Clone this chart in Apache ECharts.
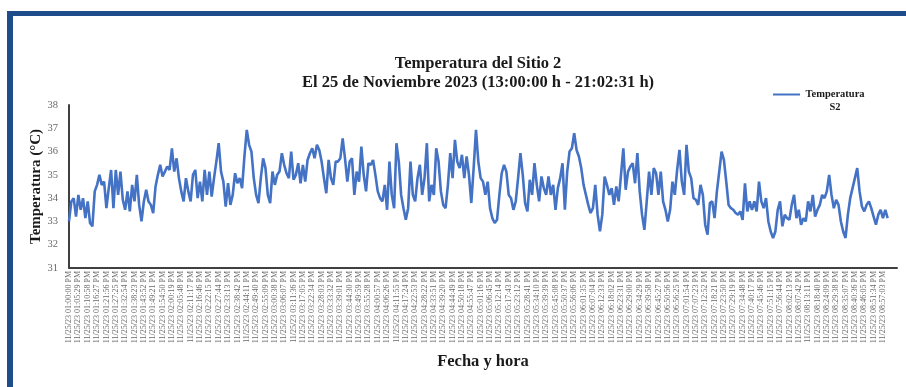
<!DOCTYPE html>
<html>
<head>
<meta charset="utf-8">
<script src="https://cdn.jsdelivr.net/npm/echarts@6/dist/echarts.min.js"></script>
<style>
html,body{margin:0;padding:0;background:#fff;}
#chart{width:906px;height:387px;}
</style>
</head>
<body>
<div id="chart"></div>
<script>
// Tick labels (every 5 min 29 s from 13:00:00)
const tickLabels = [
"11/25/23 01:00:00 PM","11/25/23 01:05:29 PM","11/25/23 01:10:58 PM","11/25/23 01:16:27 PM","11/25/23 01:21:56 PM",
"11/25/23 01:27:25 PM","11/25/23 01:32:54 PM","11/25/23 01:38:23 PM","11/25/23 01:43:52 PM","11/25/23 01:49:21 PM",
"11/25/23 01:54:50 PM","11/25/23 02:00:19 PM","11/25/23 02:05:48 PM","11/25/23 02:11:17 PM","11/25/23 02:16:46 PM",
"11/25/23 02:22:15 PM","11/25/23 02:27:44 PM","11/25/23 02:33:13 PM","11/25/23 02:38:42 PM","11/25/23 02:44:11 PM",
"11/25/23 02:49:40 PM","11/25/23 02:55:09 PM","11/25/23 03:00:38 PM","11/25/23 03:06:07 PM","11/25/23 03:11:36 PM",
"11/25/23 03:17:05 PM","11/25/23 03:22:34 PM","11/25/23 03:28:03 PM","11/25/23 03:33:32 PM","11/25/23 03:39:01 PM",
"11/25/23 03:44:30 PM","11/25/23 03:49:59 PM","11/25/23 03:55:28 PM","11/25/23 04:00:57 PM","11/25/23 04:06:26 PM",
"11/25/23 04:11:55 PM","11/25/23 04:17:24 PM","11/25/23 04:22:53 PM","11/25/23 04:28:22 PM","11/25/23 04:33:51 PM",
"11/25/23 04:39:20 PM","11/25/23 04:44:49 PM","11/25/23 04:50:18 PM","11/25/23 04:55:47 PM","11/25/23 05:01:16 PM",
"11/25/23 05:06:45 PM","11/25/23 05:12:14 PM","11/25/23 05:17:43 PM","11/25/23 05:23:12 PM","11/25/23 05:28:41 PM",
"11/25/23 05:34:10 PM","11/25/23 05:39:39 PM","11/25/23 05:45:08 PM","11/25/23 05:50:37 PM","11/25/23 05:56:06 PM",
"11/25/23 06:01:35 PM","11/25/23 06:07:04 PM","11/25/23 06:12:33 PM","11/25/23 06:18:02 PM","11/25/23 06:23:31 PM",
"11/25/23 06:29:00 PM","11/25/23 06:34:29 PM","11/25/23 06:39:58 PM","11/25/23 06:45:27 PM","11/25/23 06:50:56 PM",
"11/25/23 06:56:25 PM","11/25/23 07:01:54 PM","11/25/23 07:07:23 PM","11/25/23 07:12:52 PM","11/25/23 07:18:21 PM",
"11/25/23 07:23:50 PM","11/25/23 07:29:19 PM","11/25/23 07:34:48 PM","11/25/23 07:40:17 PM","11/25/23 07:45:46 PM",
"11/25/23 07:51:15 PM","11/25/23 07:56:44 PM","11/25/23 08:02:13 PM","11/25/23 08:07:42 PM","11/25/23 08:13:11 PM",
"11/25/23 08:18:40 PM","11/25/23 08:24:09 PM","11/25/23 08:29:38 PM","11/25/23 08:35:07 PM","11/25/23 08:40:36 PM",
"11/25/23 08:46:05 PM","11/25/23 08:51:34 PM","11/25/23 08:57:03 PM"
];
const samplesPerTick = 4; // 4 readings per label interval

// Temperature readings (°C), in order
const temps1 = [
33.00,33.86,34.00,33.21,34.14,33.50,34.00,33.14,33.86,32.93,
32.79,34.29,34.57,35.00,34.57,34.71,33.57,34.43,35.21,33.57,
35.21,34.14,35.14,33.93,33.50,34.29,33.43,34.57,33.86,35.00,
33.71,33.00,33.86,34.36,33.86,33.71,33.36,34.50,35.00,35.43,
34.93,35.14,35.36,35.21,36.14,35.14,35.71,34.86,34.29,33.86,
34.86,34.29,33.86,35.00,35.21,34.00,34.71,33.86,35.21,34.14,
35.14,34.07,34.86,35.57,36.36,35.14,34.71,33.64,34.64,33.71,
34.14,35.07,34.64,34.86,34.43,35.79,36.93,36.29,36.00,34.86,
34.14,33.79,34.86,35.71,35.29,34.14,33.79,35.14,34.57,35.00,
35.14,35.93,35.43,35.07,34.86,36.00,34.79,35.00,35.50,34.64,
35.43,34.71,35.64,35.93,36.14,35.71,36.29,36.07,35.57,34.86,
34.21,35.64,34.86,34.57,35.57
];
const temps2 = [
35.57,35.71,36.57,35.71,34.71,35.57,35.71,34.14,35.14,34.71,
36.21,35.00,34.29,35.50,35.43,35.64,35.00,34.29,34.00,33.86,
34.57,33.50,35.57,34.14,33.57,36.36,35.57,34.14,33.57,33.07,
33.57,35.57,34.14,33.86,34.86,35.43,34.14,34.86,36.36,33.86,
34.57,34.14,36.14,35.57,34.29,33.71,33.57,34.57,35.93,34.86,
36.50,35.57,35.29,35.86,34.86,35.79,35.00,33.79,35.29,36.93,
35.57,34.86,34.71,34.14,34.71,33.57,33.14,32.93,33.07,34.14,
35.07,35.43,35.14,34.14,34.00,33.50,33.86,34.86,35.93,35.00,
33.79,33.43,34.79,34.14,35.50,34.57,33.86,34.93,34.43,34.14,
34.93,34.14,34.57,33.50,34.43,34.86,35.50,33.50,35.14,36.00,
36.14,36.79,36.07,35.79,35.29,34.57,34.14,33.71,33.36,33.57,
34.57,33.29,32.57,33.29,34.93,34.57,34.14
];
const temps3 = [
34.43,33.71,34.50,33.86,35.00,36.14,34.36,35.14,35.36,35.50,
34.64,35.93,34.29,33.29,32.64,33.86,35.14,34.14,35.29,35.07,
34.14,35.14,33.86,33.50,33.00,33.50,34.71,34.14,35.21,36.07,
34.71,34.14,36.29,35.14,34.86,34.00,33.93,33.71,34.57,34.14,
32.86,32.43,33.79,33.86,33.14,34.29,35.14,36.00,35.64,34.71,
33.71,33.57,33.50,33.36,33.29,33.43,33.07,34.64,33.43,33.86,
33.50,33.86,33.43,34.71,33.86,33.57,34.00,33.00,32.57,32.29,
32.57,33.50,33.86,32.79,33.29,33.14,33.07,33.71,34.14,33.14,
33.50,32.86,33.14,33.00,33.86,33.43,34.14,33.21,33.50,33.71,
34.14,34.00,34.29,35.00,34.14,33.57,33.93,33.71,33.00,32.57,
32.29,33.29,34.00,34.43,34.86,35.29,34.29,33.64,33.43,33.71,
33.86,33.57,33.21,32.86,33.29,33.50,33.14,33.50,33.14
];
const temps = temps1.concat(temps2, temps3);

const serif = "Liberation Serif";
const chart = echarts.init(document.getElementById('chart'), null, {renderer: 'canvas'});
chart.setOption({
  backgroundColor: '#ffffff',
  animation: false,
  graphic: [
    {type: 'rect', shape: {x: 7, y: 11, width: 899, height: 5}, style: {fill: '#1f4c8a'}},
    {type: 'rect', shape: {x: 7, y: 11, width: 6, height: 376}, style: {fill: '#1f4c8a'}}
  ],
  title: {
    text: 'Temperatura del Sitio 2\nEl 25 de Noviembre 2023 (13:00:00 h - 21:02:31 h)',
    left: 473, top: 49, textAlign: 'center',
    textStyle: {fontFamily: serif, fontSize: 16.5, fontWeight: 'bold', color: '#1a1a1a', lineHeight: 19}
  },
  legend: {
    left: 773, top: 89, padding: 0,
    icon: 'rect', itemWidth: 27, itemHeight: 2,
    formatter: function () { return '{a|Temperatura}\n{a|S2}'; },
    textStyle: {
      fontFamily: serif, fontSize: 10.5, fontWeight: 'bold', color: '#1a1a1a',
      padding: [13, 0, 0, 0],
      rich: {a: {fontFamily: serif, fontSize: 10.5, fontWeight: 'bold', color: '#1a1a1a', width: 60, align: 'center', lineHeight: 13}}
    }
  },
  grid: {left: 69, right: 9, top: 105, bottom: 119, containLabel: false},
  xAxis: {
    type: 'value', min: 0, max: 354, interval: samplesPerTick,
    name: 'Fecha y hora', nameLocation: 'middle', nameGap: 85,
    nameTextStyle: {fontFamily: serif, fontSize: 16.5, fontWeight: 'bold', color: '#1a1a1a'},
    axisLine: {show: true, lineStyle: {color: '#404040', width: 2}},
    axisTick: {show: false},
    splitLine: {show: false},
    axisLabel: {
      rotate: 90, margin: 3, fontFamily: serif, fontSize: 8, color: '#6a6a6a',
      hideOverlap: false, showMinLabel: true, showMaxLabel: true,
      formatter: function (v) {
        const k = v / samplesPerTick;
        return (Number.isInteger(k) && tickLabels[k]) ? tickLabels[k] : '';
      }
    }
  },
  yAxis: {
    type: 'value', min: 31, max: 38, interval: 1,
    name: 'Temperatura (°C)', nameLocation: 'middle', nameGap: 25, nameRotate: 90,
    nameMoveOverlap: false,
    nameTextStyle: {fontFamily: serif, fontSize: 15, fontWeight: 'bold', color: '#1a1a1a'},
    axisLine: {show: true, lineStyle: {color: '#404040', width: 2}},
    axisTick: {show: false},
    splitLine: {show: false},
    axisLabel: {fontFamily: serif, fontSize: 10.5, color: '#6a6a6a', margin: 11}
  },
  series: [{
    name: 'Temperatura S2',
    type: 'line',
    data: temps.map(function (v, i) { return [i, v]; }),
    showSymbol: false, symbol: 'none',
    lineStyle: {color: '#4472c4', width: 2.6},
    itemStyle: {color: '#4472c4'}
  }]
});
</script>
</body>
</html>
